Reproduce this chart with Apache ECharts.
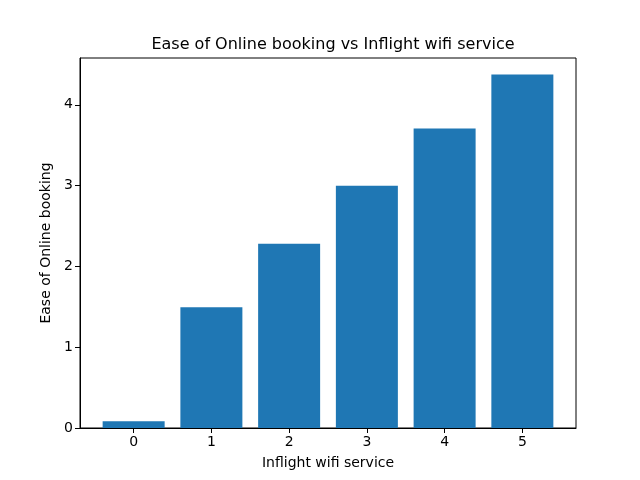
<!DOCTYPE html>
<html>
<head>
<meta charset="utf-8">
<script src="https://cdn.jsdelivr.net/npm/echarts@6/dist/echarts.min.js"></script>
<style>
  html, body { margin: 0; padding: 0; background: #fff; }
  #chart { width: 640px; height: 480px; }
</style>
</head>
<body>
<div id="chart"></div>
<script>
// data
var wifiLevels = [0, 1, 2, 3, 4, 5];
var easeBooking = [0.083, 1.495, 2.28, 3.0, 3.706, 4.376];
var yTicks = [0, 1, 2, 3, 4];

var font = "DejaVu Sans";
var myChart = echarts.init(document.getElementById("chart"));

var barData = [];
for (let i = 0; i < wifiLevels.length; i++) {
  barData.push([wifiLevels[i], easeBooking[i]]);
}

var option = {
  backgroundColor: "#fff",
  animation: false,
  title: {
    text: "Ease of Online booking vs Inflight wifi service",
    left: 328,
    top: 32,
    textAlign: "center",
    textStyle: { fontFamily: font, fontSize: 16, fontWeight: "normal", color: "#000" }
  },
  grid: {
    left: 80, right: 64, top: 58, bottom: 52,
    show: true, borderColor: "#000", borderWidth: 1, backgroundColor: "transparent"
  },
  xAxis: {
    type: "value",
    min: -0.69,
    max: 5.69,
    name: "Inflight wifi service",
    nameLocation: "middle",
    nameGap: 28,
    nameTextStyle: { fontFamily: font, fontSize: 14, color: "#000" },
    splitLine: { show: false },
    axisLine: { onZero: false, lineStyle: { color: "#000", width: 1 } },
    axisTick: { show: true, length: 5, customValues: wifiLevels, lineStyle: { color: "#000" } },
    axisLabel: { customValues: wifiLevels, fontFamily: font, fontSize: 14, color: "#000", margin: 7 }
  },
  yAxis: {
    type: "value",
    min: 0,
    max: 4.58,
    name: "Ease of Online booking",
    nameLocation: "middle",
    nameGap: 26,
    nameTextStyle: { fontFamily: font, fontSize: 14, color: "#000" },
    splitLine: { show: false },
    axisLine: { show: true, onZero: false, lineStyle: { color: "#000", width: 1 } },
    axisTick: { show: true, length: 5, customValues: yTicks, lineStyle: { color: "#000" } },
    axisLabel: { customValues: yTicks, fontFamily: font, fontSize: 14, color: "#000", margin: 7 }
  },
  series: [{
    type: "bar",
    data: barData,
    barWidth: 62,
    itemStyle: { color: "#1f77b4" }
  }]
};
myChart.setOption(option);
</script>
</body>
</html>
